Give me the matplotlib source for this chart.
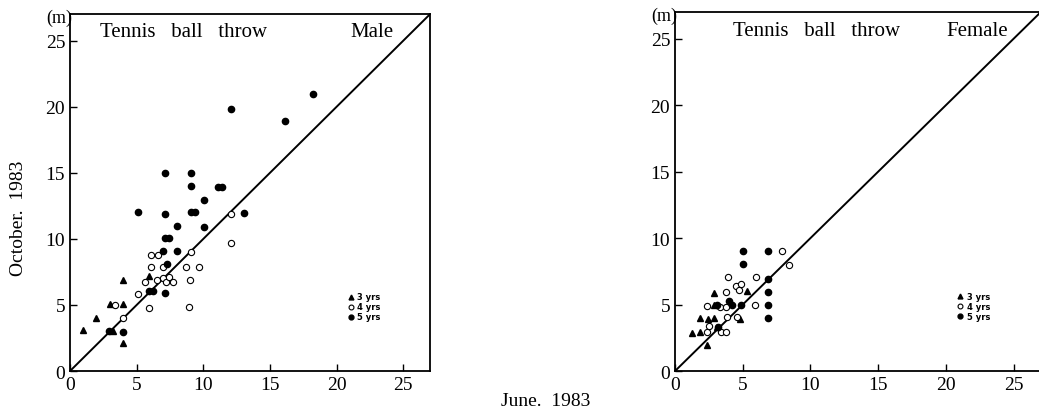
import matplotlib
matplotlib.use("Agg")
import matplotlib.pyplot as plt

plt.rcParams['font.family'] = ['Liberation Serif', 'DejaVu Serif']

# Male: June 1983 (x) vs October 1983 (y), metres
male_3_x = [0.95, 1.95, 3.0, 3.95, 3.95, 5.9, 3.95, 3.2]
male_3_y = [3.1, 4.0, 5.1, 5.05, 6.9, 7.2, 2.1, 3.0]
male_4_x = [3.4, 3.95, 5.1, 5.95, 5.6, 6.1, 6.6, 6.1, 6.95, 6.5, 6.95, 7.2, 7.4,
            7.75, 8.7, 9.1, 9.7, 9.0, 8.95, 12.1, 12.1]
male_4_y = [5.0, 4.0, 5.8, 4.8, 6.7, 8.8, 8.8, 7.9, 7.9, 6.9, 7.0, 6.7, 7.1,
            6.7, 7.85, 9.0, 7.85, 6.85, 4.85, 11.9, 9.7]
male_5_x = [2.9, 4.0, 5.1, 7.1, 9.1, 9.4, 8.05, 10.05, 10.05, 9.1, 11.1, 11.4,
            7.1, 7.4, 7.0, 8.0, 7.3, 5.9, 6.2, 7.1, 13.05, 7.15, 9.08, 12.08,
            16.15, 18.2]
male_5_y = [3.0, 2.95, 12.0, 11.9, 12.0, 12.0, 11.0, 10.9, 12.95, 14.0, 13.9, 13.9,
            10.05, 10.05, 9.05, 9.05, 8.1, 6.05, 6.05, 5.9, 11.95, 15.0, 15.0, 19.8,
            18.9, 20.95]

# Female
female_3_x = [1.28, 1.84, 1.84, 2.4, 2.87, 2.33, 2.87, 2.87, 5.28, 4.8, 3.07]
female_3_y = [2.84, 2.96, 4.0, 3.9, 3.97, 1.96, 5.9, 4.97, 6.0, 3.9, 3.34]
female_4_x = [2.33, 2.33, 2.53, 3.3, 3.39, 3.76, 3.76, 3.93, 3.86, 3.76, 4.47,
              4.74, 4.86, 4.55, 5.9, 5.95, 7.86, 8.4]
female_4_y = [4.92, 2.96, 3.39, 4.85, 2.96, 2.96, 5.98, 7.06, 4.1, 4.85, 6.4,
              6.1, 6.53, 4.1, 4.97, 7.06, 9.0, 8.0]
female_5_x = [3.07, 3.14, 3.98, 4.23, 4.99, 4.99, 4.86, 6.88, 6.88, 6.88, 6.88, 6.88]
female_5_y = [5.0, 3.34, 5.3, 4.97, 9.0, 8.04, 4.97, 9.0, 6.9, 5.98, 4.97, 4.02]

ticks = [0, 5, 10, 15, 20, 25]

fig = plt.figure(figsize=(10.39, 4.14), dpi=100)
ax1 = fig.add_axes([0.0674, 0.1014, 0.3465, 0.862])
ax2 = fig.add_axes([0.6497, 0.1014, 0.352, 0.867])


def draw(ax, d3, d4, d5, label, title_x, label_x):
    ax.plot([0, 27], [0, 27], color='black', lw=1.4)
    ax.plot(d3[0], d3[1], '^', color='black', ms=4.5, ls='none')
    ax.plot(d4[0], d4[1], 'o', mfc='white', mec='black', mew=0.8, ms=4.5, ls='none')
    ax.plot(d5[0], d5[1], 'o', color='black', ms=4.5, ls='none')
    ax.set_xlim(0, 27)
    ax.set_ylim(0, 27)
    ax.set_xticks(ticks)
    ax.set_yticks(ticks)
    ax.tick_params(direction='in', length=5, width=1, labelsize=14)
    for s in ax.spines.values():
        s.set_linewidth(1.3)
    ax.text(title_x, 0.95, 'Tennis   ball   throw', transform=ax.transAxes,
            fontsize=15, va='center')
    ax.text(label_x, 0.95, label, transform=ax.transAxes, fontsize=15, va='center')
    ax.text(0.005, 0.99, '(m)', transform=ax.transAxes, fontsize=13,
            ha='right', va='center')
    # small legend
    lx = 0.78
    for i, (txt, kw) in enumerate([
            ('3 yrs', dict(marker='^', color='black')),
            ('4 yrs', dict(marker='o', mfc='white', mec='black', mew=0.8)),
            ('5 yrs', dict(marker='o', color='black'))]):
        yy = 0.208 - i * 0.028
        ax.plot([lx], [yy], transform=ax.transAxes, ms=3.5, ls='none', **kw)
        ax.text(lx + 0.018, yy, txt, transform=ax.transAxes, fontsize=6,
                fontweight='bold', va='center', family=['DejaVu Sans'])


draw(ax1, (male_3_x, male_3_y), (male_4_x, male_4_y), (male_5_x, male_5_y),
     'Male', 0.083, 0.778)
draw(ax2, (female_3_x, female_3_y), (female_4_x, female_4_y), (female_5_x, female_5_y),
     'Female', 0.158, 0.743)

fig.text(0.018, 0.473, 'October.  1983', rotation=90, fontsize=14, ha='center', va='center')
fig.text(0.525, 0.031, 'June.  1983', fontsize=14, ha='center', va='center')

fig.savefig('out.png', dpi=100)
